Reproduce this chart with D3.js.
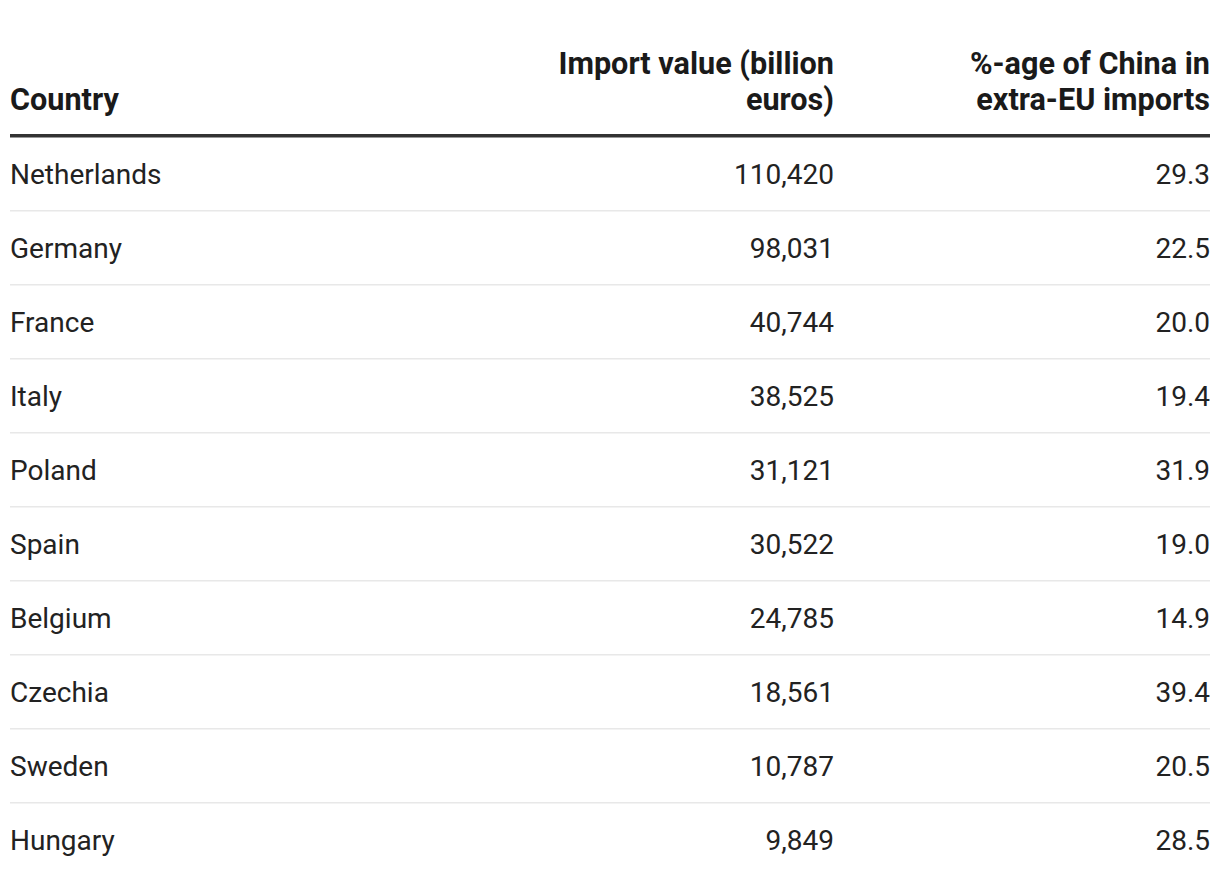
<!DOCTYPE html>
<html>
<head>
<meta charset="utf-8">
<script src="https://cdn.jsdelivr.net/npm/d3@7"></script>
<style>
  html, body { margin: 0; padding: 0; background: #fff; }
  svg { display: block; font-family: Roboto, "Noto Sans", sans-serif; }
</style>
</head>
<body>
<svg id="chart" width="1220" height="886"></svg>
<script>
const countries = ["Netherlands", "Germany", "France", "Italy", "Poland", "Spain", "Belgium", "Czechia", "Sweden", "Hungary"];
const importValues = [110420, 98031, 40744, 38525, 31121, 30522, 24785, 18561, 10787, 9849];
const chinaShares = [29.3, 22.5, 20.0, 19.4, 31.9, 19.0, 14.9, 39.4, 20.5, 28.5];
const headers = [
  ["Country"],
  ["Import value (billion", "euros)"],
  ["%-age of China in", "extra-EU imports"]
];

const svg = d3.select("#chart");
const left = 10, right = 1210;
const col2Right = 834;
const headerRule = 136;
const rowTop = 137, rowStep = 74;

const y = d3.scaleBand()
  .domain(countries)
  .range([rowTop, rowTop + rowStep * countries.length])
  .paddingInner(0).paddingOuter(0);

const fmtInt = d3.format(",");
const fmtPct = d3.format(".1f");

// header
const hdr = svg.append("g").attr("font-weight", 700).attr("font-size", 30.6).attr("fill", "#1a1a1a");
const colX = [left, col2Right, right];
const colAnchor = ["start", "end", "end"];
headers.forEach((lines, i) => {
  const t = hdr.append("text").attr("x", colX[i]).attr("text-anchor", colAnchor[i]);
  const n = lines.length;
  lines.forEach((ln, j) => {
    t.append("tspan").attr("x", colX[i]).attr("y", 110 - (n - 1 - j) * 36).text(ln);
  });
});

svg.append("rect").attr("x", left).attr("y", headerRule - 2).attr("width", right - left).attr("height", 3.5).attr("fill", "#333");

// separators
svg.append("g").selectAll("rect").data(countries.slice(0, -1)).join("rect")
  .attr("x", left).attr("width", right - left)
  .attr("y", d => y(d) + y.bandwidth() - 1).attr("height", 1.5)
  .attr("fill", "#e8e8e8");

const body = svg.append("g").attr("font-size", 28).attr("fill", "#222");
const rows = body.selectAll("g").data(countries).join("g")
  .attr("transform", d => `translate(0,${y(d) + y.bandwidth() / 2})`);
rows.append("text").attr("x", left).attr("dy", "0.35em").text(d => d);
rows.append("text").attr("x", col2Right).attr("text-anchor", "end").attr("dy", "0.35em")
  .text((d, i) => fmtInt(importValues[i]));
rows.append("text").attr("x", right).attr("text-anchor", "end").attr("dy", "0.35em")
  .text((d, i) => fmtPct(chinaShares[i]));
</script>
</body>
</html>
